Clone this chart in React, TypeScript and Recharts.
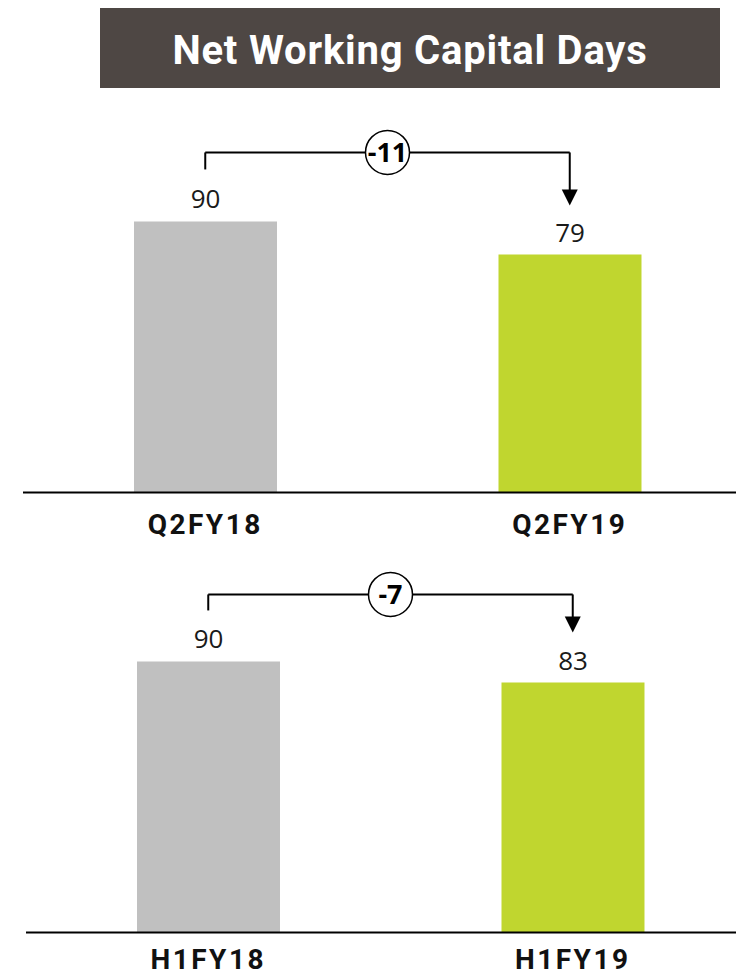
import React from 'react'
import { Bar, BarChart, Cell, LabelList, ReferenceDot, ReferenceLine, XAxis, YAxis } from 'recharts'

const topCategories = ['Q2FY18', 'Q2FY19']
const topValues = [90, 79]
const topChange = '-11'

const bottomCategories = ['H1FY18', 'H1FY19']
const bottomValues = [90, 83]
const bottomChange = '-7'

const BAR_COLORS = ['#c0c0c0', '#c0d62f']
const PX_PER_UNIT = 271 / 90
const Y_MAX = 130
const PLOT_H = Y_MAX * PX_PER_UNIT
const CHART_W = 760
const PLOT_W = 729
const TOP_MARGIN = 8

const toValue = (px: number) => px / PX_PER_UNIT

function ValueLabel(props: any) {
  const { x, y, width, value } = props
  return (
    <text
      x={x + width / 2}
      y={y - 13}
      textAnchor="middle"
      fontFamily="'Open Sans', sans-serif"
      fontSize={26}
      fill="#1a1a1a"
    >
      {value}
    </text>
  )
}

function ChangeBadge(props: any) {
  const { viewBox, text } = props
  const cx = viewBox.x + viewBox.width / 2
  const cy = viewBox.y
  return (
    <g>
      <circle cx={cx} cy={cy} r={22} fill="#fff" stroke="#000" strokeWidth={1.5} />
      <text
        x={cx}
        y={cy + 9.5}
        textAnchor="middle"
        fontFamily="'Open Sans', sans-serif"
        fontWeight={700}
        fontSize={27}
        fill="#000"
      >
        {text}
      </text>
    </g>
  )
}

function ArrowHead(props: any) {
  const { cx, cy } = props
  return <path d={`M${cx - 8},${cy - 16} L${cx + 8},${cy - 16} L${cx},${cy} Z`} fill="#000" />
}

function CategoryTick(props: any) {
  const { x, y, payload, dy } = props
  return (
    <text
      x={x}
      y={y + dy}
      textAnchor="middle"
      fontFamily="Roboto, sans-serif"
      fontWeight={700}
      fontSize={28}
      letterSpacing={2.5}
      fill="#111"
    >
      {payload.value}
    </text>
  )
}

type PanelProps = {
  categories: string[]
  values: number[]
  change: string
  baseline: number
  left: number
  tickDy: number
  axisHeight: number
  bracketPx: number
  stubPx: number
  tipPx: number
}

function Panel(p: PanelProps) {
  const data = p.categories.map((name, i) => ({ name, value: p.values[i] }))
  const [a, b] = p.categories
  const h = toValue(p.bracketPx)
  const chartTop = p.baseline - PLOT_H - TOP_MARGIN
  return (
    <div style={{ position: 'absolute', left: 0, top: chartTop }}>
      <BarChart
        width={CHART_W}
        height={TOP_MARGIN + PLOT_H + p.axisHeight}
        data={data}
        margin={{ top: TOP_MARGIN, right: CHART_W - p.left - PLOT_W, bottom: 0, left: p.left }}
      >
        <XAxis
          dataKey="name"
          axisLine={{ stroke: '#000', strokeWidth: 2 }}
          tickLine={false}
          tickSize={0}
          tickMargin={0}
          height={p.axisHeight}
          interval={0}
          tick={<CategoryTick dy={p.tickDy} />}
        />
        <YAxis hide domain={[0, Y_MAX]} />
        <Bar dataKey="value" barSize={143} isAnimationActive={false}>
          {data.map((d, i) => (
            <Cell key={d.name} fill={BAR_COLORS[i]} />
          ))}
          <LabelList dataKey="value" content={<ValueLabel />} />
        </Bar>
        <ReferenceLine
          segment={[{ x: a, y: toValue(p.stubPx) }, { x: a, y: h }]}
          stroke="#000"
          strokeWidth={2}
          ifOverflow="visible"
        />
        <ReferenceLine
          segment={[{ x: b, y: h }, { x: b, y: toValue(p.tipPx + 14) }]}
          stroke="#000"
          strokeWidth={2}
          ifOverflow="visible"
        />
        <ReferenceLine
          segment={[{ x: a, y: h }, { x: b, y: h }]}
          stroke="#000"
          strokeWidth={2}
          ifOverflow="visible"
          label={<ChangeBadge text={p.change} />}
        />
        <ReferenceDot x={b} y={toValue(p.tipPx)} ifOverflow="visible" shape={<ArrowHead />} />
      </BarChart>
    </div>
  )
}

export default function App() {
  return (
    <div
      style={{
        position: 'absolute',
        left: 0,
        top: 0,
        width: 736,
        height: 977,
        overflow: 'hidden',
        background: '#fff',
      }}
    >
      <div
        style={{
          position: 'absolute',
          left: 100,
          top: 8,
          width: 620,
          height: 80,
          boxSizing: 'border-box',
          paddingTop: 5,
          background: '#4e4744',
          color: '#fff',
          fontFamily: 'Roboto, sans-serif',
          fontWeight: 700,
          fontSize: 40,
          display: 'flex',
          alignItems: 'center',
          justifyContent: 'center',
          letterSpacing: 0.8,
          lineHeight: '75px',
        }}
      >
        Net Working Capital Days
      </div>
      <Panel
        categories={topCategories}
        values={topValues}
        change={topChange}
        baseline={492}
        left={23}
        tickDy={42}
        axisHeight={60}
        bracketPx={340}
        stubPx={323}
        tipPx={287}
      />
      <Panel
        categories={bottomCategories}
        values={bottomValues}
        change={bottomChange}
        baseline={932}
        left={26}
        tickDy={37}
        axisHeight={45}
        bracketPx={338}
        stubPx={322}
        tipPx={300}
      />
    </div>
  )
}
